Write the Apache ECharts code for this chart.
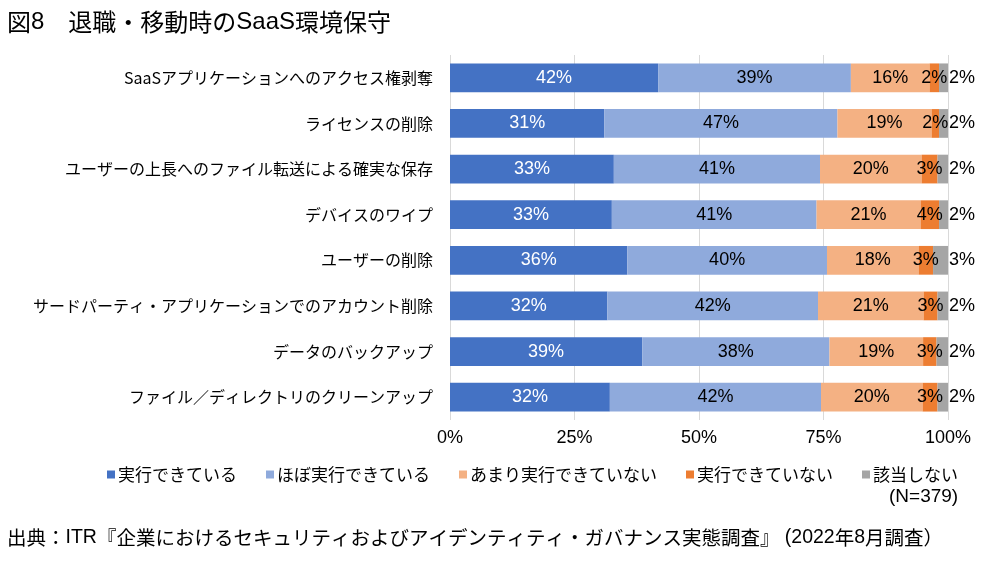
<!DOCTYPE html>
<html>
<head>
<meta charset="utf-8">
<script src="https://cdn.jsdelivr.net/npm/echarts@6/dist/echarts.min.js"></script>
<style>
  html, body { margin: 0; padding: 0; background: #fff; }
  #chart { width: 1000px; height: 564px; }
</style>
</head>
<body>
<div id="chart"></div>
<script>
// categories, top to bottom
const categories = [
    'SaaSアプリケーションへのアクセス権剥奪',
    'ライセンスの削除',
    'ユーザーの上長へのファイル転送による確実な保存',
    'デバイスのワイプ',
    'ユーザーの削除',
    'サードパーティ・アプリケーションでのアカウント削除',
    'データのバックアップ',
    'ファイル／ディレクトリのクリーンアップ'
];

const seriesNames = ['実行できている', 'ほぼ実行できている', 'あまり実行できていない', '実行できていない', '該当しない'];

// shares in % (labels show rounded values)
const jikkou      = [41.8, 31.0, 32.9, 32.5, 35.6, 31.6, 38.6, 32.1];
const hobo        = [38.7, 46.8, 41.4, 41.1, 40.1, 42.3, 37.6, 42.4];
const amari       = [15.8, 18.9, 20.4, 20.9, 18.4, 21.2, 18.8, 20.4];
const dekiteinai  = [1.9, 1.5, 3.2, 3.7, 2.9, 2.8, 2.7, 3.0];
const gaitou      = [1.8, 1.8, 2.1, 1.8, 3.0, 2.1, 2.3, 2.1];

const xTicks = [0, 25, 50, 75, 100];

const colors = ['#4472C4', '#8FAADC', '#F4B183', '#ED7D31', '#A5A5A5'];
const latin = 'Liberation Sans, Arial, "Noto Sans CJK JP", sans-serif';
const jp = '"Noto Sans CJK JP", sans-serif';

const chart = echarts.init(document.getElementById('chart'), null, { renderer: 'canvas' });

const values = [jikkou, hobo, amari, dekiteinai, gaitou];
const labelColors = ['#fff', '#000', '#000', '#000', '#000'];

const series = values.map((vals, i) => ({
    name: seriesNames[i],
    type: 'bar',
    stack: 'total',
    barWidth: '63%',
    data: vals,
    itemStyle: { color: colors[i] },
    label: {
        show: true,
        position: i === 4 ? 'right' : 'inside',
        distance: 1,
        color: labelColors[i],
        fontFamily: latin,
        fontSize: 18,
        formatter: p => Math.round(p.value) + '%'
    },
    labelLayout: { hideOverlap: false }
}));

const option = {
    animation: false,
    backgroundColor: '#fff',
    color: colors,
    title: [{
        text: '{j|図}{l|8}{j|　退職・移動時の}{l|SaaS}{j|環境保守}',
        left: 2,
        top: 5,
        textStyle: {
            fontWeight: 'normal',
            rich: {
                j: { fontFamily: jp, fontSize: 24, fontWeight: 'normal', color: '#000' },
                l: { fontFamily: latin, fontSize: 24, fontWeight: 'normal', color: '#000' }
            }
        }
    }, {
        text: '(N=379)',
        left: 884,
        top: 482,
        textStyle: { fontFamily: latin, fontSize: 19, fontWeight: 'normal', color: '#000' }
    }, {
        text: '{j|出典：}{l|ITR}{j|『企業におけるセキュリティおよびアイデンティティ・ガバナンス実態調査』}{l| (2022}{j|年}{l|8}{j|月調査）}',
        left: 2,
        top: 523,
        textStyle: {
            fontWeight: 'normal',
            rich: {
                j: { fontFamily: jp, fontSize: 19.5, fontWeight: 'normal', color: '#000' },
                l: { fontFamily: latin, fontSize: 19.5, fontWeight: 'normal', color: '#000' }
            }
        }
    }],
    legend: {
        left: 102,
        top: 461,
        icon: 'rect',
        itemWidth: 8,
        itemHeight: 8,
        itemGap: 29,
        selectedMode: false,
        data: seriesNames,
        textStyle: { fontFamily: jp, fontSize: 17, color: '#000', padding: [0, 0, 0, -2] }
    },
    grid: { left: 450, right: 52, top: 55, height: 365, containLabel: false },
    xAxis: {
        type: 'value',
        min: 0,
        max: 100,
        interval: 25,
        axisLine: { show: false },
        axisTick: { show: false },
        splitLine: { lineStyle: { color: '#d9d9d9', width: 1 } },
        axisLabel: {
            color: '#000',
            fontFamily: latin,
            fontSize: 18,
            margin: 9,
            formatter: v => xTicks.includes(v) ? v + '%' : ''
        }
    },
    yAxis: {
        type: 'category',
        inverse: true,
        data: categories,
        axisLine: { show: false },
        axisTick: { show: false },
        axisLabel: {
            color: '#000',
            fontFamily: jp,
            fontSize: 16,
            margin: 17
        }
    },
    series: series
};

chart.setOption(option);
</script>
</body>
</html>
